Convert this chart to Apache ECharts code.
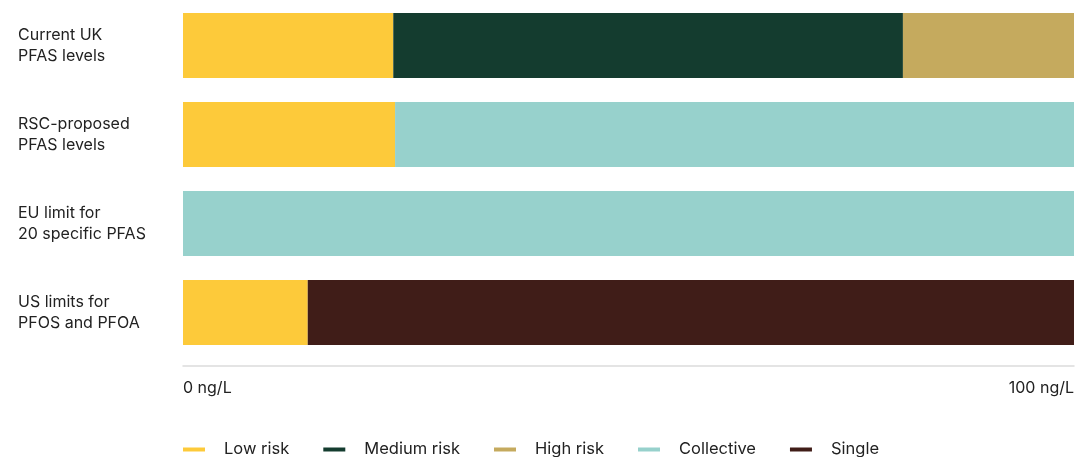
<!DOCTYPE html>
<html>
<head>
<meta charset="utf-8">
<script src="https://cdn.jsdelivr.net/npm/echarts@6/dist/echarts.min.js"></script>
<style>
  html, body { margin: 0; padding: 0; background: #fff; overflow: hidden; }
  #chart { width: 1077px; height: 457px; }
</style>
</head>
<body>
<div id="chart"></div>
<script>
const categories = ['Current UK\nPFAS levels', 'RSC-proposed\nPFAS levels', 'EU limit for\n20 specific PFAS', 'US limits for\nPFOS and PFOA'];
const lowRisk = [23.6, 23.8, null, 14.0];
const mediumRisk = [57.2, null, null, null];
const highRisk = [19.2, null, null, null];
const collective = [null, 76.2, 100, null];
const single = [null, null, null, 86.0];
const xTickLabels = { 0: '0 ng/L', 100: '100 ng/L' };

const seriesDefs = [
  { name: 'Low risk', data: lowRisk, color: '#FDCA3A' },
  { name: 'Medium risk', data: mediumRisk, color: '#143C2F' },
  { name: 'High risk', data: highRisk, color: '#C5AA5E' },
  { name: 'Collective', data: collective, color: '#97D1CC' },
  { name: 'Single', data: single, color: '#401D18' }
];

const chart = echarts.init(document.getElementById('chart'), null, { renderer: 'canvas', width: 1077, height: 457 });
chart.setOption({
  animation: false,
  textStyle: { fontFamily: 'Inter' },
  grid: { left: 183, right: -3, top: 1, height: 356, containLabel: false },
  xAxis: {
    type: 'value', min: 0, max: 100, interval: 100,
    offset: 9,
    axisLine: { show: true, lineStyle: { color: '#dcdcdc', width: 1.5 } },
    axisTick: { show: false },
    splitLine: { show: false },
    axisLabel: {
      margin: 14, fontSize: 16, color: '#222', fontFamily: 'Inter',
      alignMinLabel: 'left', alignMaxLabel: 'right',
      formatter: v => xTickLabels[v] || ''
    }
  },
  yAxis: {
    type: 'category', data: categories, inverse: true,
    axisLine: { show: false }, axisTick: { show: false },
    axisLabel: {
      align: 'left', margin: 165, fontSize: 16, lineHeight: 21,
      color: '#222', fontFamily: 'Inter', padding: [2, 0, 0, 0]
    }
  },
  legend: {
    left: 178, top: 436, itemWidth: 22, itemHeight: 4, itemGap: 34,
    icon: 'rect',
    textStyle: { fontSize: 16.5, color: '#222', fontFamily: 'Inter', padding: [0, 0, 0, 14] },
    data: seriesDefs.map(s => s.name)
  },
  series: seriesDefs.map(s => ({
    name: s.name, type: 'bar', stack: 'total', data: s.data,
    barWidth: 65, itemStyle: { color: s.color }
  }))
});
</script>
</body>
</html>
